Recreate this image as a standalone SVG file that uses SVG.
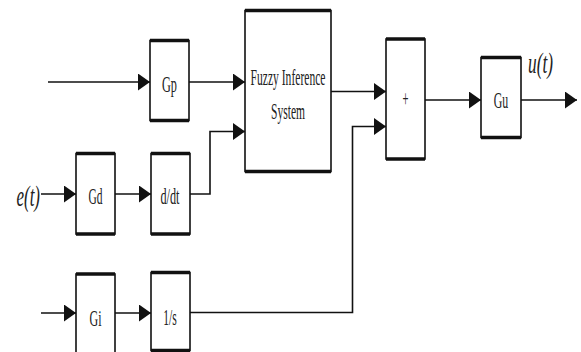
<svg xmlns="http://www.w3.org/2000/svg" width="581" height="352" viewBox="0 0 581 352">
  <style>
    .box { fill: #ffffff; stroke: #111111; stroke-width: 1.6; }
    .cap { stroke: #111111; stroke-width: 3.4; }
    .lbl { font-family: "Liberation Serif", "Times New Roman", serif; font-size: 24px; fill: #222222; text-anchor: middle; }
    .sig { font-family: "Liberation Serif", "Times New Roman", serif; font-style: italic; font-size: 29px; fill: #222222; }
    .wire { fill: none; stroke: #111111; stroke-width: 1.6; }
  </style>
  <defs>
    <marker id="arrow" markerUnits="userSpaceOnUse" markerWidth="12" markerHeight="17" refX="12" refY="8.5" orient="auto">
      <path d="M0,0 L12,8.5 L0,17 Z" fill="#111111"/>
    </marker>
  </defs>

  <!-- connectors -->
  <g id="connectors">
    <path class="wire" d="M48,82 H150" marker-end="url(#arrow)"/>
    <path class="wire" d="M189,82 H245" marker-end="url(#arrow)"/>
    <path class="wire" d="M41,194 H76" marker-end="url(#arrow)"/>
    <path class="wire" d="M115,194 H151" marker-end="url(#arrow)"/>
    <path class="wire" d="M190,194 H210 V131.5 H245" marker-end="url(#arrow)"/>
    <path class="wire" d="M331,91.5 H386" marker-end="url(#arrow)"/>
    <path class="wire" d="M41,313 H76" marker-end="url(#arrow)"/>
    <path class="wire" d="M115,313 H151" marker-end="url(#arrow)"/>
    <path class="wire" d="M190,312.5 H352.5 V126.5 H386" marker-end="url(#arrow)"/>
    <path class="wire" d="M425,100 H481" marker-end="url(#arrow)"/>
    <path class="wire" d="M521,100 H577" marker-end="url(#arrow)"/>
  </g>

  <!-- proportional gain -->
  <g id="gp">
    <rect class="box" x="150" y="40.5" width="39" height="80"/>
    <line class="cap" x1="150" y1="40.5" x2="189" y2="40.5"/>
    <line class="cap" x1="150" y1="120.5" x2="189" y2="120.5"/>
    <text class="lbl" x="169.5" y="91.5" textLength="15" lengthAdjust="spacingAndGlyphs">Gp</text>
  </g>

  <!-- fuzzy inference system -->
  <g id="fis">
    <rect class="box" x="245" y="10.5" width="86" height="161"/>
    <line class="cap" x1="245" y1="10.5" x2="331" y2="10.5"/>
    <line class="cap" x1="245" y1="171.5" x2="331" y2="171.5"/>
    <text class="lbl" x="288" y="84.5" font-size="25" textLength="75" lengthAdjust="spacingAndGlyphs">Fuzzy Inference</text>
    <text class="lbl" x="288" y="119" font-size="25" textLength="34" lengthAdjust="spacingAndGlyphs">System</text>
  </g>

  <!-- summing block -->
  <g id="sum">
    <rect class="box" x="386" y="39" width="39" height="120"/>
    <line class="cap" x1="386" y1="39" x2="425" y2="39"/>
    <line class="cap" x1="386" y1="159" x2="425" y2="159"/>
    <text class="lbl" x="405.5" y="106" font-size="19" textLength="6" lengthAdjust="spacingAndGlyphs">+</text>
  </g>

  <!-- output gain -->
  <g id="gu">
    <rect class="box" x="481" y="57.5" width="40" height="80"/>
    <line class="cap" x1="481" y1="57.5" x2="521" y2="57.5"/>
    <line class="cap" x1="481" y1="137.5" x2="521" y2="137.5"/>
    <text class="lbl" x="501" y="107.5" textLength="14.5" lengthAdjust="spacingAndGlyphs">Gu</text>
  </g>
  <text id="u-label" class="sig" x="528" y="73" textLength="25" lengthAdjust="spacingAndGlyphs">u(t)</text>

  <!-- error input -->
  <text id="e-label" class="sig" x="16.5" y="206" textLength="23.5" lengthAdjust="spacingAndGlyphs">e(t)</text>

  <!-- derivative gain -->
  <g id="gd">
    <rect class="box" x="76" y="153.5" width="39" height="80.5"/>
    <line class="cap" x1="76" y1="153.5" x2="115" y2="153.5"/>
    <line class="cap" x1="76" y1="234" x2="115" y2="234"/>
    <text class="lbl" x="95.5" y="204" textLength="14" lengthAdjust="spacingAndGlyphs">Gd</text>
  </g>

  <!-- differentiator -->
  <g id="ddt">
    <rect class="box" x="151" y="153.5" width="39" height="80.5"/>
    <line class="cap" x1="151" y1="153.5" x2="190" y2="153.5"/>
    <line class="cap" x1="151" y1="234" x2="190" y2="234"/>
    <text class="lbl" x="170" y="204" textLength="19" lengthAdjust="spacingAndGlyphs">d/dt</text>
  </g>

  <!-- integral gain -->
  <g id="gi">
    <rect class="box" x="76" y="274" width="39" height="81"/>
    <line class="cap" x1="76" y1="274" x2="115" y2="274"/>
    <text class="lbl" x="95.5" y="326" textLength="12" lengthAdjust="spacingAndGlyphs">Gi</text>
  </g>

  <!-- integrator -->
  <g id="integ">
    <rect class="box" x="151" y="272.5" width="39" height="78"/>
    <line class="cap" x1="151" y1="272.5" x2="190" y2="272.5"/>
    <line class="cap" x1="151" y1="350.5" x2="190" y2="350.5"/>
    <text class="lbl" x="170" y="325" textLength="13.5" lengthAdjust="spacingAndGlyphs">1/s</text>
  </g>
</svg>
